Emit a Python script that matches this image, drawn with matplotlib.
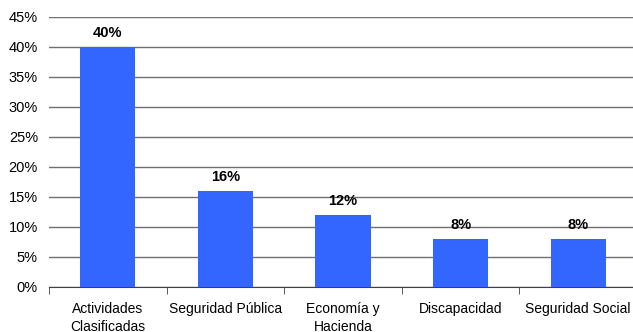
import matplotlib
matplotlib.use("Agg")
import matplotlib.pyplot as plt
import numpy as np

categories = ["Actividades\nClasificadas", "Seguridad Pública", "Economía y\nHacienda",
              "Discapacidad", "Seguridad Social"]
values = [40, 16, 12, 8, 8]
yticks = [0, 5, 10, 15, 20, 25, 30, 35, 40, 45]

plt.rcParams['font.family'] = ['Liberation Sans', 'DejaVu Sans']

fig = plt.figure(figsize=(6.33, 3.32), dpi=100)
ax = fig.add_axes([49 / 633, 45 / 332, 588 / 633, 270 / 332])

x = np.arange(len(categories))
ax.bar(x, values, width=0.47, color="#3366FF", zorder=3)

for xi, v in zip(x, values):
    ax.annotate(f"{v}%", (xi, v), xytext=(0, 5), textcoords="offset points",
                ha="center", va="bottom", fontsize=10.5, fontweight="bold")

ax.set_xlim(-0.5, len(categories) - 0.5)
ax.set_ylim(0, 45)
ax.set_yticks(yticks)
ax.set_yticklabels([f"{t}%" for t in yticks], fontsize=10.5)
ax.yaxis.grid(True, color="#707070", linewidth=1, zorder=0)
ax.tick_params(axis="y", length=0, pad=8)

# category labels sit between boundary ticks
ax.set_xticks(x)
ax.set_xticklabels(categories, fontsize=10, linespacing=1.3)
ax.tick_params(axis="x", length=0, pad=11)
ax.set_xticks(np.arange(len(categories) + 1) - 0.5, minor=True)
ax.tick_params(axis="x", which="minor", length=5, direction="out", color="#404040")

for s in ["left", "right", "top"]:
    ax.spines[s].set_visible(False)
ax.spines["bottom"].set_color("#404040")

fig.savefig("out.png", dpi=100)
